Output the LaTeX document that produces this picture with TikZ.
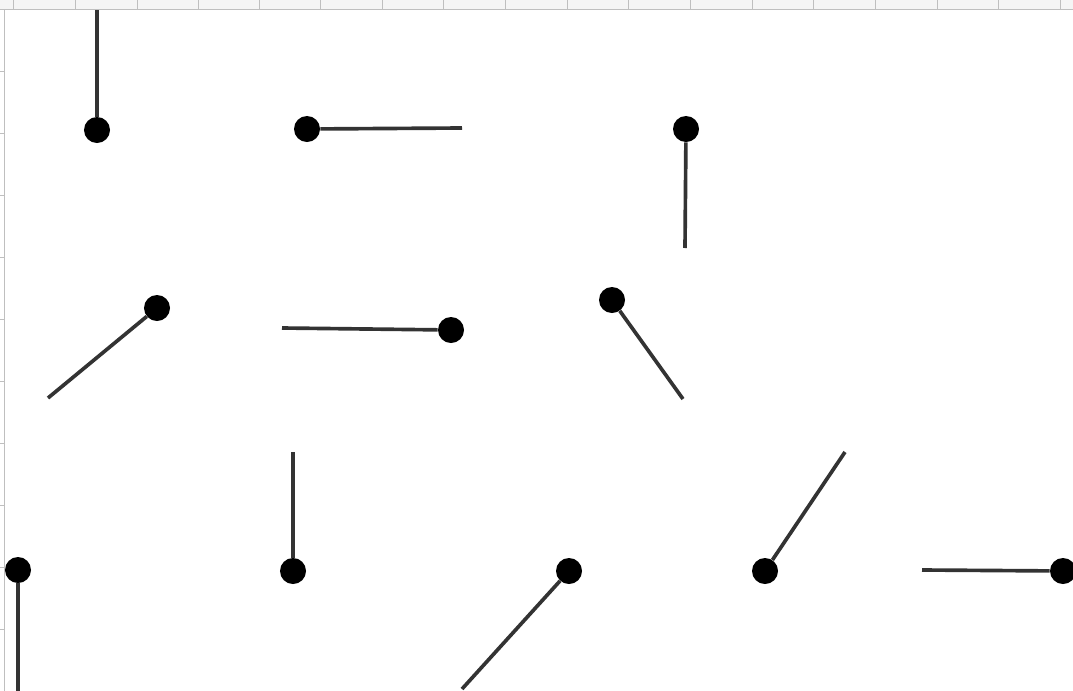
\documentclass[tikz,border=0pt]{standalone}
\usepackage{tikz}

\begin{document}
\begin{tikzpicture}[x=0.025cm, y=-0.025cm,
    bob/.style={circle, fill=black, inner sep=0pt, minimum size=0.65cm},
    rod/.style={line width=2.6pt, draw=black!80},
    grid/.style={draw=black!25, line width=0.6pt}]
    \useasboundingbox[fill=white] (0,0) rectangle (1073,691);
    % sheet borders
    \fill[black!4] (0,0) rectangle (1073,9);
    \draw[grid] (0,9) -- (1073,9);
    \foreach \gx in {13,75,137,198,259,320,382,443,505,567,628,690,752,813,875,937,998,1060}
        \draw[grid] (\gx,0) -- (\gx,9);
    \draw[grid] (4,9) -- (4,691);
    \foreach \gy in {71,133,195,257,319,381,443,505,567,629}
        \draw[grid] (0,\gy) -- (4,\gy);

    % pendulums: bob, then rod end
    \foreach \n/\bx/\by/\tx/\ty in {a/97/130/97/10, b/307/129/462/128, c/686/129/685/248,
        d/157/308/48/398, e/451/330/282/328, f/612/300/683/399,
        g/293/571/293/452, h/569/571/462/689, i/765/571/845/452,
        j/1063/571/922/570, k/18/570/18/691} {
        \node[bob] (\n) at (\bx,\by) {};
        \coordinate (\n end) at (\tx,\ty);
        \draw[rod] (\n) -- (\n end);
    }
\end{tikzpicture}
\end{document}
